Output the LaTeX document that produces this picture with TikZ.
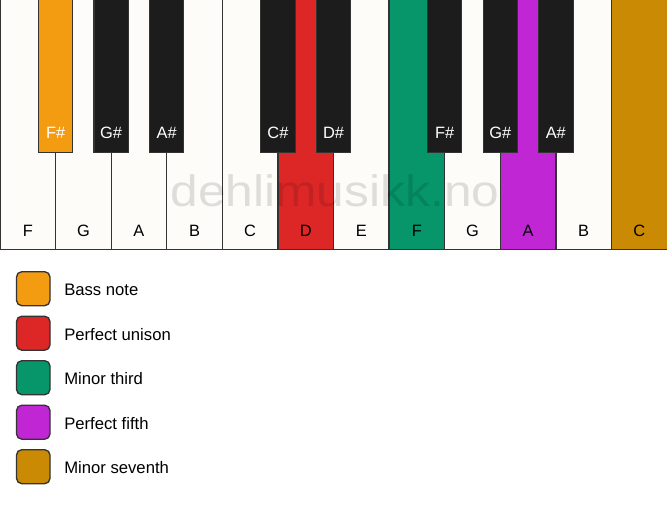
\documentclass[tikz,border=0pt]{standalone}
\usepackage{fontspec}
\setmainfont{Liberation Sans}
\definecolor{ivorykey}{HTML}{FDFCF8}
\definecolor{ebonykey}{HTML}{1C1C1C}
\definecolor{keyline}{HTML}{333333}
\definecolor{bassnote}{HTML}{F39C12}
\definecolor{unison}{HTML}{DD2727}
\definecolor{minthird}{HTML}{06966A}
\definecolor{fifth}{HTML}{C026D3}
\definecolor{minseventh}{HTML}{CA8A04}
\tikzset{
	whitekey/.style={line width=1pt, draw=keyline, fill=ivorykey},
	blackkey/.style={line width=0.8pt, draw=keyline, fill=ebonykey},
	whitelabel/.style={font=\fontsize{12.3}{14}\selectfont, text=black},
	blacklabel/.style={font=\fontsize{12.3}{14}\selectfont, text=white},
	swatch/.style={line width=1pt, draw=keyline, rounded corners=4pt},
	legendtext/.style={anchor=west, inner sep=0pt, font=\fontsize{12.5}{14}\selectfont}
}

\begin{document}
\begin{tikzpicture}[x=0.75pt, y=-0.75pt]
		%%%%% START %%%%%
		\useasboundingbox (0, 0) rectangle (667, 506);
		
		\draw[whitekey] (0, -3) rectangle (55.58, 249.5);
		\draw[whitekey] (55.58, -3) rectangle (111.17, 249.5);
		\draw[whitekey] (111.17, -3) rectangle (166.75, 249.5);
		\draw[whitekey] (166.75, -3) rectangle (222.33, 249.5);
		\draw[whitekey] (222.33, -3) rectangle (277.92, 249.5);
		\draw[whitekey, fill=unison] (277.92, -3) rectangle (333.5, 249.5);
		\draw[whitekey] (333.5, -3) rectangle (389.08, 249.5);
		\draw[whitekey, fill=minthird] (389.08, -3) rectangle (444.67, 249.5);
		\draw[whitekey] (444.67, -3) rectangle (500.25, 249.5);
		\draw[whitekey, fill=fifth] (500.25, -3) rectangle (555.83, 249.5);
		\draw[whitekey] (555.83, -3) rectangle (611.42, 249.5);
		\draw[whitekey, fill=minseventh] (611.42, -3) rectangle (669, 249.5);
		
		\node[opacity=0.12, text=black, anchor=base, xscale=1.13, font=\fontsize{33}{36}\selectfont] (mark) at (335, 206.7) {dehlimusikk.no};
		
		\draw[blackkey, fill=bassnote] (38.38, -3) rectangle (72.78, 152.7);
		\draw[blackkey] (93.97, -3) rectangle (128.37, 152.7);
		\draw[blackkey] (149.55, -3) rectangle (183.95, 152.7);
		\draw[blackkey] (260.72, -3) rectangle (295.12, 152.7);
		\draw[blackkey] (316.3, -3) rectangle (350.7, 152.7);
		\draw[blackkey] (427.47, -3) rectangle (461.87, 152.7);
		\draw[blackkey] (483.05, -3) rectangle (517.45, 152.7);
		\draw[blackkey] (538.63, -3) rectangle (573.03, 152.7);
		
		\node[whitelabel] (f1) at (27.79, 231) {F};
		\node[whitelabel] (g1) at (83.38, 231) {G};
		\node[whitelabel] (a1) at (138.96, 231) {A};
		\node[whitelabel] (b1) at (194.54, 231) {B};
		\node[whitelabel] (c1) at (250.13, 231) {C};
		\node[whitelabel] (d1) at (305.71, 231) {D};
		\node[whitelabel] (e1) at (361.29, 231) {E};
		\node[whitelabel] (f2) at (416.88, 231) {F};
		\node[whitelabel] (g2) at (472.46, 231) {G};
		\node[whitelabel] (a2) at (528.04, 231) {A};
		\node[whitelabel] (b2) at (583.63, 231) {B};
		\node[whitelabel] (c2) at (639.21, 231) {C};
		
		\node[blacklabel] (fis1) at (55.58, 133) {F\#};
		\node[blacklabel] (gis1) at (111.17, 133) {G\#};
		\node[blacklabel] (ais1) at (166.75, 133) {A\#};
		\node[blacklabel] (cis1) at (277.92, 133) {C\#};
		\node[blacklabel] (dis1) at (333.5, 133) {D\#};
		\node[blacklabel] (fis2) at (444.67, 133) {F\#};
		\node[blacklabel] (gis2) at (500.25, 133) {G\#};
		\node[blacklabel] (ais2) at (555.83, 133) {A\#};
		
		\draw[swatch, fill=bassnote] (16.5, 271.7) rectangle (50, 305.7);
		\node[legendtext] (bass) at (64, 290) {Bass note};
		\draw[swatch, fill=unison] (16.5, 316.2) rectangle (50, 350.2);
		\node[legendtext] (uni) at (64, 334.5) {Perfect unison};
		\draw[swatch, fill=minthird] (16.5, 360.7) rectangle (50, 394.7);
		\node[legendtext] (third) at (64, 379) {Minor third};
		\draw[swatch, fill=fifth] (16.5, 405.2) rectangle (50, 439.2);
		\node[legendtext] (fifth) at (64, 423.5) {Perfect fifth};
		\draw[swatch, fill=minseventh] (16.5, 449.7) rectangle (50, 483.7);
		\node[legendtext] (seventh) at (64, 468) {Minor seventh};
		
		%%%%% END %%%%%
	\end{tikzpicture}
\end{document}
